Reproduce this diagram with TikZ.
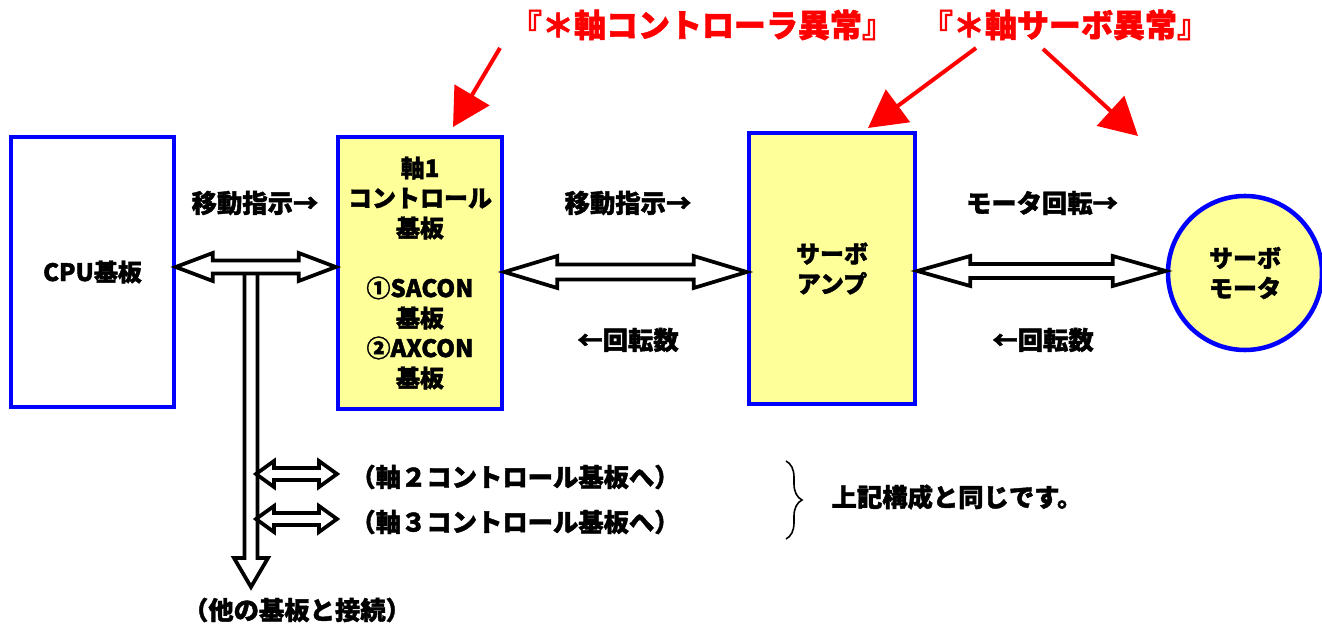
\documentclass[tikz,border=0pt]{standalone}
\usepackage{fontspec}
\setmainfont{Noto Sans CJK JP}[BoldFeatures={FakeBold=1.6}]
\usetikzlibrary{calc,arrows.meta,decorations.pathreplacing}
\definecolor{boxblue}{RGB}{0,0,255}
\definecolor{boxyellow}{RGB}{255,255,153}
\definecolor{alertred}{RGB}{255,0,0}
\tikzset{
  basefont/.style={font=\bfseries\fontsize{19}{22.5}\selectfont},
  boxfont/.style={font=\bfseries\fontsize{18}{22.5}\selectfont},
  cpubox/.style={draw=boxblue, line width=2.6pt, fill=white, inner sep=0pt, align=center, boxfont},
  ylbox/.style={draw=boxblue, line width=3.4pt, fill=boxyellow, inner sep=0pt, align=center, boxfont},
  lbl/.style={inner sep=0pt, align=center, basefont},
  redlbl/.style={inner sep=0pt, text=alertred, font=\bfseries\fontsize{24}{28}\selectfont},
  hollow/.style={draw=black, fill=white, line width=2.8pt, line join=miter, miter limit=20},
  redarrow/.style={draw=alertred, line width=3pt, -{Triangle[length=28pt,width=30pt]}},
  dblarrow/.style n args={3}{to path={
    let \p1=(\tikztostart), \p2=(\tikztotarget) in
    (\p1) -- ++(#1,#2) -- ++(0,#3-#2) -- ($(\p2)+(-#1,#3)$) -- ++(0,#2-#3)
    -- (\p2) -- ++(-#1,-#2) -- ++(0,#2-#3) -- ($(\p1)+(#1,-#3)$) -- ++(0,#3-#2) -- cycle}},
  downarrow/.style n args={3}{to path={
    let \p1=(\tikztostart), \p2=(\tikztotarget) in
    ($(\p1)+(-#3,0)$) -- ($(\p2)+(-#3,-#1)$) -- ($(\p2)+(-#2,-#1)$) -- (\p2)
    -- ($(\p2)+(#2,-#1)$) -- ($(\p2)+(#3,-#1)$) -- ($(\p1)+(#3,0)$)}},
  bracestyle/.style={draw=black, line width=1.2pt, decorate, decoration={brace, amplitude=12pt}}
}
\begin{document}
\begin{tikzpicture}[x=0.75pt,y=-0.75pt]
\useasboundingbox[fill=white] (0,0) rectangle (1322,630);

% boxes
\node[cpubox, minimum width=122.25pt, minimum height=202.5pt] (cpu) at (92.5,272) {CPU基板};
\node[ylbox, minimum width=123pt, minimum height=204pt] (ctl) at (420,273)
  {軸1\\コントロール\\基板\\[22.5pt]①SACON\\基板\\②AXCON\\基板};
\node[ylbox, minimum width=124.5pt, minimum height=203.25pt] (amp) at (832,268.5) {サーボ\\アンプ};
\node[ylbox, circle, minimum size=115.5pt] (mot) at (1245,273) {サーボ\\モータ};

% connector end points
\coordinate (cpuR) at (cpu.east |- 0,267);
\coordinate (ctlL) at (ctl.west |- 0,267);
\coordinate (ctlR) at (ctl.east |- 0,272);
\coordinate (ampL) at (amp.west |- 0,272);
\coordinate (ampR) at (amp.east |- 0,271);
\coordinate (motL) at (mot.west |- 0,271);
\coordinate (tee) at (251,273.5);
\coordinate (bus) at (251,587);
\coordinate (b2s) at (256,474);
\coordinate (b2e) at (337,474);
\coordinate (b3s) at (256,519);
\coordinate (b3e) at (337,519);

% bus arrow down (drawn first)
\draw[hollow, downarrow={29}{17}{6.5}] (tee) to (bus);
\draw[hollow, dblarrow={18}{13}{6}] (b2s) to (b2e);
\draw[hollow, dblarrow={18}{13}{6}] (b3s) to (b3e);

% main double arrows
\draw[hollow, dblarrow={37}{14}{6.5}] (cpuR) to (ctlL);
\draw[hollow, dblarrow={53}{16}{7.5}] (ctlR) to (ampL);
\draw[hollow, dblarrow={53}{15}{7}] (ampR) to (motL);

% labels
\node[lbl] (t1) at (255,203) {移動指示→};
\node[lbl] (t2) at (628,203) {移動指示→};
\node[lbl] (t3) at (628,340) {←回転数};
\node[lbl] (t4) at (1042,203) {モータ回転→};
\node[lbl] (t5) at (1043,340) {←回転数};
\node[lbl] (t6) at (515,477) {（軸２コントロール基板へ）};
\node[lbl] (t7) at (515,522) {（軸３コントロール基板へ）};
\node[lbl] (t8) at (957,497) {上記構成と同じです。};
\node[lbl] (t9) at (297,610) {（他の基板と接続）};

% brace
\coordinate (brT) at (786,461);
\coordinate (brB) at (786,539);
\draw[bracestyle] (brT) -- (brB);

% red labels and arrows
\node[redlbl] (e1) at (702,25) {『＊軸コントローラ異常』};
\node[redlbl] (e2) at (1065,25) {『＊軸サーボ異常』};
\coordinate (r1s) at (500,48);
\coordinate (r1e) at (453,127);
\coordinate (r2s) at (976,48);
\coordinate (r2e) at (868,128);
\coordinate (r3s) at (1043,49);
\coordinate (r3e) at (1138,136);
\draw[redarrow] (r1s) -- (r1e);
\draw[redarrow] (r2s) -- (r2e);
\draw[redarrow] (r3s) -- (r3e);
\end{tikzpicture}
\end{document}
